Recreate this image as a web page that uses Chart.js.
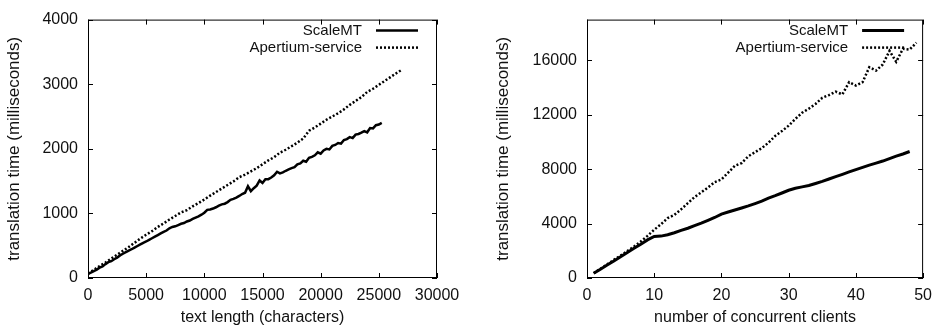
<!DOCTYPE html>
<html>
<head>
<meta charset="utf-8">
<title>ScaleMT vs Apertium-service</title>
<script src="https://cdn.jsdelivr.net/npm/chart.js@4.4.1/dist/chart.umd.min.js"></script>
<style>
  body { margin: 0; background: #fff; }
  .row { display: flex; width: 940px; height: 331px; }
  canvas { display: block; }
</style>
</head>
<body>
<div class="row">
  <canvas id="lengthChart" width="470" height="331"></canvas>
  <canvas id="clientsChart" width="470" height="331"></canvas>
</div>
<script>
// left chart: time vs text length
const textLenScale = [
  0, 250, 500, 750, 1000, 1250, 1500, 1750, 2000, 2250,
  2500, 2750, 3000, 3250, 3500, 3750, 4000, 4250, 4500, 4750,
  5000, 5250, 5500, 5750, 6000, 6250, 6500, 6750, 7000, 7250,
  7500, 7750, 8000, 8250, 8500, 8750, 9000, 9250, 9500, 9750,
  10000, 10250, 10500, 10750, 11000, 11250, 11500, 11750, 12000, 12250,
  12500, 12750, 13000, 13250, 13500, 13750, 14000, 14250, 14500, 14750,
  15000, 15250, 15500, 15750, 16000, 16250, 16500, 16750, 17000, 17250,
  17500, 17750, 18000, 18250, 18500, 18750, 19000, 19250, 19500, 19750,
  20000, 20250, 20500, 20750, 21000, 21250, 21500, 21750, 22000, 22250,
  22500, 22750, 23000, 23250, 23500, 23750, 24000, 24250, 24500, 24750,
  25000, 25250
];
const msScaleByLen = [
  60, 85, 105, 130, 160, 180, 215, 245, 260, 290,
  315, 350, 375, 400, 425, 445, 470, 495, 520, 545,
  565, 590, 615, 640, 665, 690, 715, 735, 770, 790,
  800, 820, 840, 850, 875, 890, 915, 935, 955, 980,
  1010, 1055, 1060, 1075, 1095, 1120, 1140, 1150, 1175, 1210,
  1225, 1245, 1270, 1300, 1320, 1420, 1345, 1390, 1430, 1510,
  1470, 1530, 1530, 1555, 1590, 1645, 1620, 1635, 1660, 1680,
  1700, 1715, 1760, 1775, 1815, 1800, 1860, 1875, 1900, 1945,
  1925, 1975, 2000, 1990, 2045, 2060, 2090, 2080, 2135, 2150,
  2180, 2165, 2220, 2230, 2250, 2275, 2255, 2320, 2315, 2365,
  2375, 2400
];
const textLenApertium = [
  0, 500, 1000, 1500, 2000, 2500, 3000, 3500, 4000, 4500,
  5000, 5500, 6000, 6500, 7000, 7500, 8000, 8500, 9000, 9500,
  10000, 10500, 11000, 11500, 12000, 12500, 13000, 13500, 14000, 14500,
  15000, 15500, 16000, 16500, 17000, 17500, 18000, 18500, 19000, 19500,
  20000, 20500, 21000, 21500, 22000, 22500, 23000, 23500, 24000, 24500,
  25000, 25500, 26000, 26500, 27000
];
const msApertiumByLen = [
  70, 125, 185, 240, 300, 360, 420, 480, 545, 610,
  670, 725, 790, 845, 905, 960, 1015, 1050, 1110, 1160,
  1215, 1275, 1330, 1385, 1440, 1495, 1560, 1600, 1650, 1700,
  1760, 1820, 1870, 1940, 1985, 2040, 2095, 2160, 2280, 2330,
  2390, 2450, 2500, 2550, 2610, 2680, 2740, 2800, 2880, 2930,
  2990, 3050, 3110, 3170, 3225
];
const lenTicksX = [0, 5000, 10000, 15000, 20000, 25000, 30000];
const lenTicksY = [0, 1000, 2000, 3000, 4000];

// right chart: time vs concurrent clients
const clientsScale = [
  1, 2, 3, 4, 5, 6, 7, 8, 9, 10, 11, 12, 13, 14, 15, 16, 17, 18, 19, 20,
  21, 22, 23, 24, 25, 26, 27, 28, 29, 30, 31, 32, 33, 34, 35, 36, 37, 38, 39, 40,
  41, 42, 43, 44, 45, 46, 47, 48
];
const msScaleByClients = [
  350, 650, 950, 1250, 1560, 1870, 2180, 2480, 2800, 3050,
  3080, 3180, 3330, 3500, 3660, 3850, 4030, 4240, 4450, 4700,
  4850, 5000, 5150, 5300, 5470, 5650, 5870, 6050, 6250, 6450,
  6600, 6700, 6800, 6950, 7100, 7280, 7450, 7620, 7800, 7970,
  8130, 8300, 8450, 8600, 8780, 8960, 9120, 9300
];
const clientsApertium = [
  1, 2, 3, 4, 5, 6, 7, 8, 9, 10, 11, 12, 13, 14, 15, 16, 17, 18, 19, 20,
  21, 22, 23, 24, 25, 26, 27, 28, 29, 30, 31, 32, 33, 34, 35, 36, 37, 38, 39, 40,
  41, 42, 43, 44, 45, 46, 47, 48, 49
];
const msApertiumByClients = [
  350, 680, 1000, 1330, 1650, 1980, 2320, 2680, 3100, 3550,
  3950, 4400, 4640, 5050, 5500, 5950, 6300, 6650, 7050, 7250,
  7750, 8250, 8450, 8950, 9250, 9550, 9950, 10450, 10800, 11200,
  11700, 12150, 12450, 12800, 13250, 13450, 13700, 13500, 14400, 14150,
  14400, 15500, 15250, 15700, 16700, 15900, 16850, 16800, 17300
];
const clientTicksX = [0, 10, 20, 30, 40, 50];
const clientTicksY = [0, 4000, 8000, 12000, 16000];

const seriesNames = ['ScaleMT', 'Apertium-service'];

Chart.defaults.font.family = '"Liberation Sans", Arial, sans-serif';
Chart.defaults.font.size = 16;
Chart.defaults.color = '#111';

function toPoints(xs, ys) {
  return xs.map((x, i) => ({ x: x, y: ys[i] }));
}

// gnuplot style box with inward ticks on all four sides
const frameTicks = {
  id: 'frameTicks',
  afterDatasetsDraw(chart) {
    const { ctx, chartArea: a, scales } = chart;
    ctx.save();
    ctx.strokeStyle = '#000';
    ctx.lineWidth = 1;
    ctx.strokeRect(a.left + 0.5, a.top + 0.5, a.right - a.left - 1, a.bottom - a.top - 1);
    ctx.beginPath();
    scales.x.ticks.forEach(t => {
      const px = Math.round(scales.x.getPixelForValue(t.value)) + 0.5;
      ctx.moveTo(px, a.bottom); ctx.lineTo(px, a.bottom - 5);
      ctx.moveTo(px, a.top); ctx.lineTo(px, a.top + 5);
    });
    scales.y.ticks.forEach(t => {
      const py = Math.round(scales.y.getPixelForValue(t.value)) + 0.5;
      ctx.moveTo(a.left, py); ctx.lineTo(a.left + 5, py);
      ctx.moveTo(a.right, py); ctx.lineTo(a.right - 5, py);
    });
    ctx.stroke();
    ctx.restore();
  }
};

// legend in the top right corner, text first and line sample after it
const cornerLegend = {
  id: 'cornerLegend',
  afterDatasetsDraw(chart) {
    const { ctx, chartArea: a } = chart;
    ctx.save();
    ctx.font = '15px "Liberation Sans", Arial, sans-serif';
    ctx.fillStyle = '#111';
    ctx.textAlign = 'right';
    ctx.textBaseline = 'middle';
    chart.data.datasets.forEach((ds, i) => {
      const y = a.top + 11 + i * 17;
      ctx.fillText(ds.label, a.right - 75, y);
      ctx.beginPath();
      ctx.strokeStyle = ds.borderColor;
      ctx.lineWidth = ds.borderWidth;
      ctx.setLineDash(ds.borderDash || []);
      ctx.moveTo(a.right - 61, y);
      ctx.lineTo(a.right - 19, y);
      ctx.stroke();
    });
    ctx.restore();
  }
};

function axis(min, max, tickValues, title, horizontal, size) {
  return {
    type: 'linear',
    min: min,
    max: max,
    afterBuildTicks: s => { s.ticks = tickValues.map(v => ({ value: v })); },
    afterFit: s => { if (horizontal) s.height = size; else s.width = size; },
    grid: { display: false, drawTicks: false },
    border: { display: false },
    ticks: {
      padding: horizontal ? 8 : 10,
      autoSkip: false,
      maxRotation: 0,
      color: '#111',
      callback: v => String(v)
    },
    title: {
      display: true,
      text: title,
      color: '#111',
      font: { size: horizontal ? 16 : 17 },
      padding: horizontal ? { top: 0, bottom: 4 } : { top: 0, bottom: 0 }
    }
  };
}

function makeChart(id, scaleData, apertiumData, lineW, xAxis, yAxis, padding) {
  new Chart(document.getElementById(id), {
    type: 'line',
    data: {
      datasets: [
        { label: seriesNames[0], data: scaleData, borderColor: '#000', borderWidth: lineW,
          pointRadius: 0, tension: 0, fill: false },
        { label: seriesNames[1], data: apertiumData, borderColor: '#000', borderWidth: 2.5,
          borderDash: [2, 2], pointRadius: 0, tension: 0, fill: false }
      ]
    },
    options: {
      responsive: false,
      animation: false,
      layout: { padding: padding },
      plugins: { legend: { display: false }, tooltip: { enabled: false } },
      scales: { x: xAxis, y: yAxis }
    },
    plugins: [frameTicks, cornerLegend]
  });
}

makeChart('lengthChart',
  toPoints(textLenScale, msScaleByLen),
  toPoints(textLenApertium, msApertiumByLen),
  2.5,
  axis(0, 30000, lenTicksX, 'text length (characters)', true, 53),
  axis(0, 4000, lenTicksY, 'translation time (milliseconds)', false, 84),
  { top: 13, right: 33, left: 4, bottom: 0 });

makeChart('clientsChart',
  toPoints(clientsScale, msScaleByClients),
  toPoints(clientsApertium, msApertiumByClients),
  3,
  axis(0, 50, clientTicksX, 'number of concurrent clients', true, 53),
  axis(0, 19000, clientTicksY, 'translation time (milliseconds)', false, 94),
  { top: 13, right: 14, left: 23, bottom: 0 });
</script>
</body>
</html>
